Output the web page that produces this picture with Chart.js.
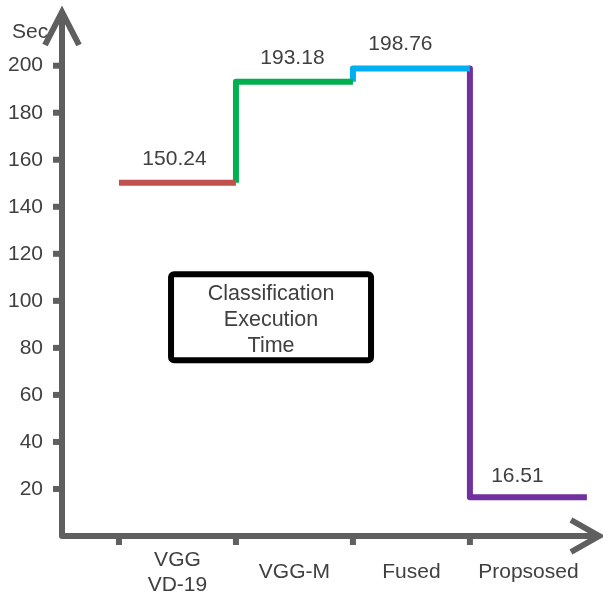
<!DOCTYPE html>
<html>
<head>
<meta charset="utf-8">
<script src="https://cdn.jsdelivr.net/npm/chart.js@4"></script>
<style>
  html, body { margin: 0; padding: 0; background: #fff; }
  #wrap { width: 603px; height: 593px; position: relative; }
</style>
</head>
<body>
<div id="wrap"><canvas id="chart"></canvas></div>
<script>
// Models compared, in order along the x axis
const categories = [['VGG', 'VD-19'], 'VGG-M', 'Fused', 'Propsosed'];
// Classification execution time per model, in seconds
const execTimes = [150.24, 193.18, 198.76, 16.51];
// Step colours per model
const stepColors = ['#C0504D', '#00B050', '#00B0F0', '#7030A0'];
// Y tick labels
const yTicks = [20, 40, 60, 80, 100, 120, 140, 160, 180, 200];
// Small horizontal nudges (px) for the value labels
const labelShift = [-3, -2, -11, -11];

const TEXT = '#404040';
const AXIS = '#5f5f5f';
const FONT = '"Liberation Sans", Arial, sans-serif';

// Each model is one step: rise/fall from the previous level, then run across its slot
const datasets = execTimes.map((v, i) => {
  const pts = [];
  if (i > 0) pts.push({ x: i, y: execTimes[i - 1] });
  pts.push({ x: i, y: v });
  pts.push({ x: i + 1, y: v });
  return {
    label: Array.isArray(categories[i]) ? categories[i].join(' ') : categories[i],
    data: pts,
    borderColor: stepColors[i],
    backgroundColor: stepColors[i],
    borderWidth: 6,
    borderJoinStyle: 'round',
    borderCapStyle: 'butt',
    pointRadius: 0,
    tension: 0,
    fill: false
  };
});

const decorations = {
  id: 'decorations',
  beforeDatasetsDraw(chart) {
    const { ctx, chartArea, scales } = chart;
    const x = scales.x, y = scales.y;
    const left = chartArea.left, bottom = chartArea.bottom;
    ctx.save();
    // unit label
    ctx.fillStyle = TEXT;
    ctx.font = '21px ' + FONT;
    ctx.textAlign = 'left';
    ctx.textBaseline = 'middle';
    ctx.fillText('Sec', 12, 32);

    ctx.strokeStyle = AXIS;
    ctx.fillStyle = AXIS;
    ctx.lineWidth = 6;
    // axes with rounded corner
    ctx.lineJoin = 'round';
    ctx.beginPath();
    ctx.moveTo(left, 12);
    ctx.lineTo(left, bottom);
    ctx.lineTo(598, bottom);
    ctx.stroke();
    // arrow heads
    ctx.lineJoin = 'miter';
    ctx.beginPath();
    ctx.moveTo(left - 17, 45);
    ctx.lineTo(left, 12);
    ctx.lineTo(left + 17, 45);
    ctx.stroke();
    ctx.beginPath();
    ctx.moveTo(571, bottom - 16);
    ctx.lineTo(599, bottom);
    ctx.lineTo(571, bottom + 16);
    ctx.stroke();
    // y tick stubs
    yTicks.forEach(t => {
      const py = y.getPixelForValue(t);
      ctx.fillRect(left - 9, py - 3, 7, 6);
    });
    // x slot boundary stubs
    for (let i = 0; i < categories.length; i++) {
      const px = x.getPixelForValue(i);
      ctx.fillRect(px - 3, bottom + 2, 6, 7);
    }
    ctx.restore();
  },
  afterDatasetsDraw(chart) {
    const { ctx, scales } = chart;
    const x = scales.x, y = scales.y;
    ctx.save();
    ctx.fillStyle = TEXT;
    ctx.font = '21px ' + FONT;
    ctx.textAlign = 'center';
    ctx.textBaseline = 'middle';
    // value labels above each step
    execTimes.forEach((v, i) => {
      const px = x.getPixelForValue(i + 0.5) + labelShift[i];
      const py = y.getPixelForValue(v) - (i === 3 ? 21 : 24);
      ctx.fillText(v.toFixed(2), px, py);
    });
    // title box
    const cx = x.getPixelForValue(1.3);
    const cy = y.getPixelForValue(93);
    const w = 200, h = 86;
    ctx.strokeStyle = '#000';
    ctx.lineWidth = 6;
    ctx.lineJoin = 'round';
    ctx.beginPath();
    ctx.roundRect(cx - w / 2, cy - h / 2, w, h, 3);
    ctx.stroke();
    ctx.font = '21.5px ' + FONT;
    ['Classification', 'Execution', 'Time'].forEach((t, k) => {
      ctx.fillText(t, cx, cy - 23 + k * 26);
    });
    ctx.restore();
  }
};

Chart.defaults.font.family = FONT;
Chart.defaults.font.size = 21;
Chart.defaults.color = TEXT;

new Chart(document.getElementById('chart'), {
  type: 'line',
  data: { datasets },
  options: {
    responsive: true,
    maintainAspectRatio: false,
    animation: false,
    layout: { padding: { top: 0, right: 3, left: 0, bottom: 0 } },
    plugins: { legend: { display: false }, tooltip: { enabled: false } },
    scales: {
      x: {
        type: 'linear',
        min: -0.487,
        max: 4.111,
        grid: { display: false, drawTicks: false },
        border: { display: false },
        afterBuildTicks(scale) {
          scale.ticks = categories.map((c, i) => ({ value: i + 0.5 }));
        },
        afterFit(scale) { scale.height = 57; },
        ticks: {
          autoSkip: false,
          maxRotation: 0,
          padding: 24,
          crossAlign: 'center',
          font: { size: 21, lineHeight: 1.2 },
          callback: (v, i) => categories[i]
        }
      },
      y: {
        min: 0,
        max: 214.5,
        grid: { display: false, drawTicks: false },
        border: { display: false },
        afterBuildTicks(scale) {
          scale.ticks = yTicks.map(v => ({ value: v }));
        },
        afterFit(scale) { scale.width = 62; },
        ticks: { padding: 19, font: { size: 21 } }
      }
    }
  },
  plugins: [decorations]
});
</script>
</body>
</html>
